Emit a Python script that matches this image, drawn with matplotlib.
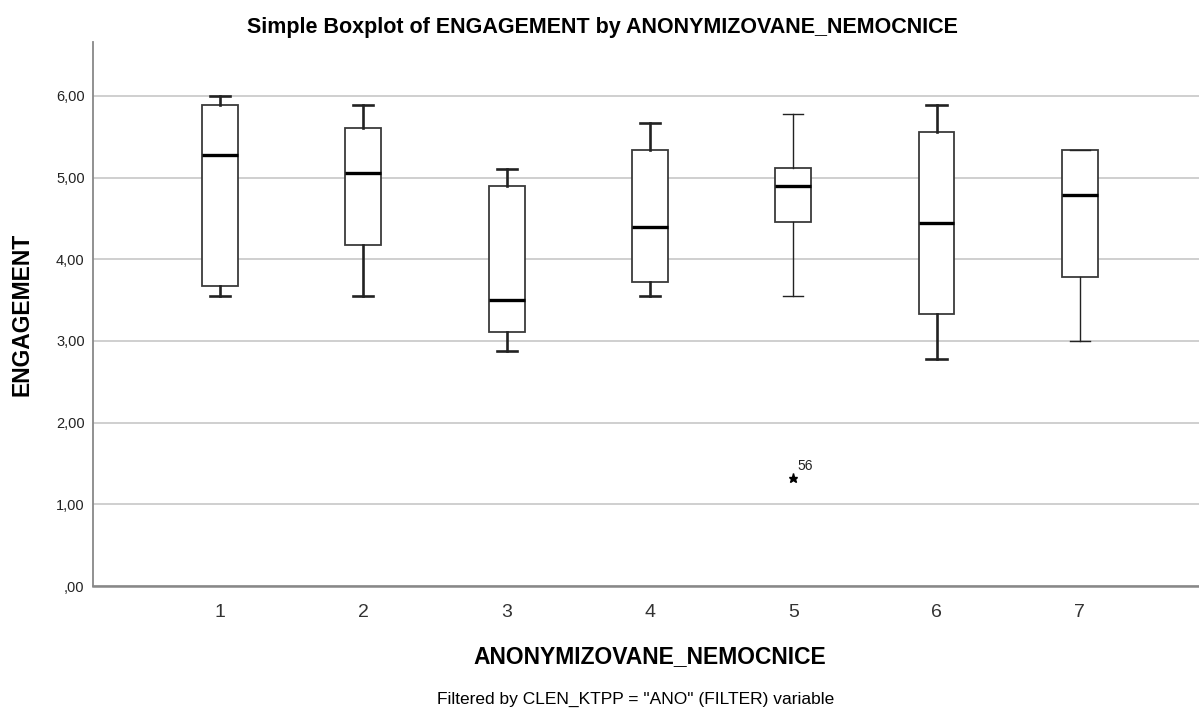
import matplotlib
matplotlib.use("Agg")
import matplotlib.pyplot as plt
from matplotlib import font_manager

categories = ["1", "2", "3", "4", "5", "6", "7"]
whisker_low = [3.55, 3.55, 2.88, 3.55, 3.55, 2.78, 3.00]
q1 = [3.67, 4.17, 3.11, 3.72, 4.45, 3.33, 3.78]
median = [5.28, 5.06, 3.50, 4.39, 4.89, 4.44, 4.78]
q3 = [5.89, 5.61, 4.89, 5.34, 5.12, 5.56, 5.34]
whisker_high = [6.00, 5.89, 5.11, 5.67, 5.78, 5.89, 5.34]
outlier_cat = 5
outlier_value = 1.32
outlier_label = "56"
y_ticks = [0, 1, 2, 3, 4, 5, 6]
y_tick_labels = [",00", "1,00", "2,00", "3,00", "4,00", "5,00", "6,00"]

names = {f.name for f in font_manager.fontManager.ttflist}
main_font = "Liberation Sans" if "Liberation Sans" in names else "DejaVu Sans"
narrow_font = "Liberation Sans Narrow" if "Liberation Sans Narrow" in names else main_font
plt.rcParams["font.family"] = [main_font, "DejaVu Sans"]

W, H = 1199, 711
fig = plt.figure(figsize=(W / 100, H / 100), dpi=100)
left_px, right_px, top_px, bottom_px = 93, 1199, 42, 586
ax = fig.add_axes([left_px / W, 1 - bottom_px / H, (right_px - left_px) / W, (bottom_px - top_px) / H])

positions = list(range(1, len(categories) + 1))
stats = []
for i in range(len(categories)):
    stats.append(dict(med=median[i], q1=q1[i], q3=q3[i], whislo=whisker_low[i],
                      whishi=whisker_high[i], fliers=[], label=categories[i]))

whisker_lw = [1.9, 1.9, 1.9, 1.9, 1.0, 1.9, 1.0]
for i, st in enumerate(stats):
    ax.bxp([st], positions=[positions[i]], widths=0.25, capwidths=0.14,
           showfliers=False, patch_artist=True,
           boxprops=dict(facecolor="white", edgecolor="#3a3a3a", linewidth=1.3),
           medianprops=dict(color="black", linewidth=2.4),
           whiskerprops=dict(color="#222222", linewidth=whisker_lw[i]),
           capprops=dict(color="#222222", linewidth=whisker_lw[i]),
           zorder=3)

ax.plot([outlier_cat], [outlier_value], marker="*", color="black", markersize=6.5,
        linestyle="none", zorder=4)
ax.annotate(outlier_label, (outlier_cat, outlier_value), xytext=(3, 6),
            textcoords="offset points", fontsize=10, color="#222222")

ax.set_xlim(1 - (220 - left_px) / 143.3, 1 + (right_px - 220) / 143.3)
ax.set_ylim(0, (bottom_px - top_px) / 81.7)
ax.set_yticks(y_ticks)
ax.set_yticklabels(y_tick_labels, fontsize=10.5, color="#222222")
ax.set_xticks(positions)
ax.set_xticklabels(categories, fontsize=14, color="#333333")
ax.tick_params(axis="y", length=0, pad=6)
ax.tick_params(axis="x", length=0, pad=13)
ax.yaxis.grid(True, color="#cccccc", linewidth=1.3, zorder=0)
ax.set_axisbelow(True)
for s in ["top", "right"]:
    ax.spines[s].set_visible(False)
ax.spines["left"].set_color("#888888")
ax.spines["left"].set_linewidth(1.3)
ax.spines["bottom"].set_color("#888888")
ax.spines["bottom"].set_linewidth(1.8)

fig.text(602 / W, 1 - 28 / H, "Simple Boxplot of ENGAGEMENT by ANONYMIZOVANE_NEMOCNICE",
         ha="center", va="center", fontsize=15.5, fontweight="bold")
fig.text(22 / W, 1 - 314 / H, "ENGAGEMENT", ha="center", va="center", rotation=90,
         fontsize=16.5, fontweight="bold")
fig.text(650 / W, 1 - 657 / H, "ANONYMIZOVANE_NEMOCNICE", ha="center", va="center",
         fontsize=16.5, fontweight="bold")
fig.text(636 / W, 1 - 699 / H, 'Filtered by CLEN_KTPP = "ANO" (FILTER) variable',
         ha="center", va="center", fontsize=12.5, family=[narrow_font, "DejaVu Sans"])

fig.savefig("out.png", dpi=100, facecolor="white")
